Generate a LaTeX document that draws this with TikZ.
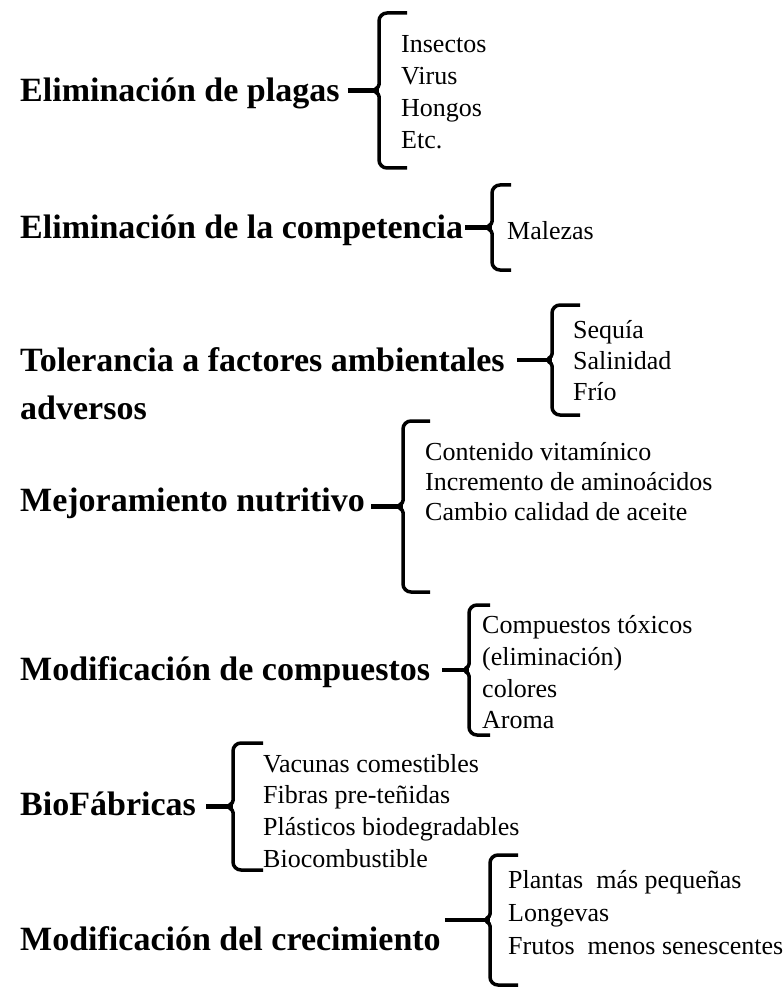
\documentclass[tikz,border=0pt]{standalone}
\usepackage{fontspec}
\setmainfont{Liberation Serif}

\tikzset{
  head/.style={anchor=base west, inner sep=0pt, font=\fontsize{34}{40}\selectfont\bfseries},
  item/.style={anchor=base west, inner sep=0pt, font=\fontsize{26}{32}\selectfont},
  brc/.style={line width=3.5pt, rounded corners=8pt},
  tick/.style={line width=4.5pt}
}

% brace: name, x, top, bottom, right end
\newcommand\curly[5]{%
  \coordinate (#1) at (#2, {(#3+#4)/2});
  \draw[brc] (#5,#3) -- (#2,#3) -- (#2,{(#3+#4)/2-14})
    .. controls (#2,{(#3+#4)/2-4}) .. ({#2-8},{(#3+#4)/2})
    .. controls (#2,{(#3+#4)/2+4}) .. (#2,{(#3+#4)/2+14})
    -- (#2,#4) -- (#5,#4);
}

\begin{document}
\begin{tikzpicture}[x=1pt, y=-1pt]
  \useasboundingbox (0,0) rectangle (782,992);

  \node[head] (h1) at (20, 102) {Eliminación de plagas};
  \node[item] (i11) at (401, 53) {Insectos};
  \node[item] (i12) at (401, 85) {Virus};
  \node[item] (i13) at (401, 117) {Hongos};
  \node[item] (i14) at (401, 149) {Etc.};
  \curly{b1}{379}{13}{168}{407}
  \draw[tick] ([xshift=8pt]h1.east |- b1) -- (b1);

  \node[head] (h2) at (20, 238) {Eliminación de la competencia};
  \node[item] (i21) at (507, 240) {Malezas};
  \curly{b2}{492}{185}{270}{511}
  \draw[tick] ([xshift=2pt]h2.east |- b2) -- (b2);

  \node[head] (h3) at (20, 371) {Tolerancia a factores ambientales};
  \node[head] (h3b) at (20, 419) {adversos};
  \node[item] (i31) at (573, 338) {Sequía};
  \node[item] (i32) at (573, 369) {Salinidad};
  \node[item] (i33) at (573, 400) {Frío};
  \curly{b3}{552}{305}{415}{580}
  \draw[tick] ([xshift=12pt]h3.east |- b3) -- (b3);

  \node[head] (h4) at (20, 511) {Mejoramiento nutritivo};
  \node[item] (i41) at (425, 460) {Contenido vitamínico};
  \node[item] (i42) at (425, 490) {Incremento de aminoácidos};
  \node[item] (i43) at (425, 520) {Cambio calidad de aceite};
  \curly{b4}{403}{421}{592}{430}
  \draw[tick] ([xshift=6pt]h4.east |- b4) -- (b4);

  \node[head] (h5) at (20, 680) {Modificación de compuestos};
  \node[item] (i51) at (482, 633) {Compuestos tóxicos};
  \node[item] (i52) at (482, 665) {(eliminación)};
  \node[item] (i53) at (482, 697) {colores};
  \node[item] (i54) at (482, 728) {Aroma};
  \curly{b5}{469}{605}{735}{490}
  \draw[tick] ([xshift=12pt]h5.east |- b5) -- (b5);

  \node[head] (h6) at (20, 815) {BioFábricas};
  \node[item] (i61) at (263, 772) {Vacunas comestibles};
  \node[item] (i62) at (263, 803) {Fibras pre-teñidas};
  \node[item] (i63) at (263, 835) {Plásticos biodegradables};
  \node[item] (i64) at (263, 867) {Biocombustible};
  \curly{b6}{233}{743}{870}{263}
  \draw[tick] ([xshift=10pt]h6.east |- b6) -- (b6);

  \node[head] (h7) at (20, 950) {Modificación del crecimiento};
  \node[item] (i71) at (508, 888) {Plantas\ \ más pequeñas};
  \node[item] (i72) at (508, 921) {Longevas};
  \node[item] (i73) at (508, 954) {Frutos\ \ menos senescentes};
  \curly{b7}{490}{855}{985}{518}
  \draw[tick] ([xshift=4pt]h7.east |- b7) -- (b7);
\end{tikzpicture}
\end{document}
